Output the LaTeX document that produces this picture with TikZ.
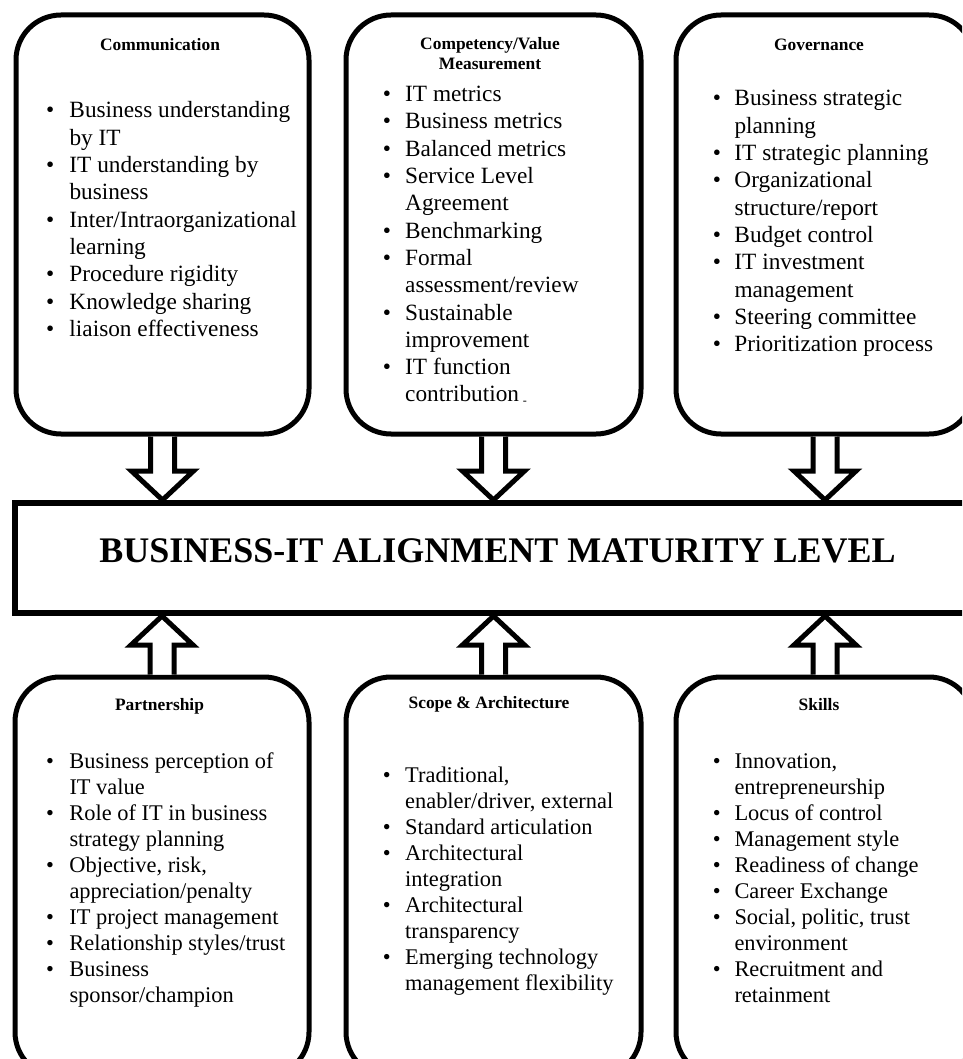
\documentclass[tikz,border=0pt]{standalone}
\usepackage{fontspec}
\setmainfont{Liberation Serif}
\usetikzlibrary{calc}
\tikzset{
  boxst/.style={draw, line width=5pt, rounded corners=45pt, inner sep=0pt, fill=white},
  mainst/.style={draw, line width=6pt, inner sep=0pt, fill=white, font=\fontsize{36}{40}\selectfont\bfseries},
  ttl/.style={anchor=base, inner sep=0pt, font=\fontsize{17.4}{19.5}\selectfont\bfseries},
  lstT/.style={anchor=base west, inner sep=0pt, font=\fontsize{23.3}{27.3}\selectfont},
  lstB/.style={anchor=base west, inner sep=0pt, font=\fontsize{22.4}{26.1}\selectfont},
  arr/.style={draw, line width=5pt, line join=miter, fill=white},
}
\newcommand{\myblist}[2]{\begin{tabular}[t]{@{}p{#1}@{}l@{}}#2\end{tabular}}
\begin{document}
\begin{tikzpicture}[x=1pt, y=-1pt]
\useasboundingbox (0,0) rectangle (962,1059);
\clip (0,0) rectangle (962,1059);

% top boxes
\node[boxst, minimum width=293pt, minimum height=419pt] (b1) at (162.5,224.5) {};
\node[boxst, minimum width=295pt, minimum height=419pt] (b2) at (493.5,224.5) {};
\node[boxst, minimum width=298pt, minimum height=419pt] (b3) at (825,224.5) {};
% bottom boxes
\node[boxst, minimum width=294pt, minimum height=400pt] (b4) at (162,877) {};
\node[boxst, minimum width=295pt, minimum height=400pt] (b5) at (493.5,877) {};
\node[boxst, minimum width=298pt, minimum height=400pt] (b6) at (825,877) {};

% main rectangle
\node[mainst, minimum width=965pt, minimum height=110pt, text depth=15pt] (main) at (497.5,558) {BUSINESS-IT ALIGNMENT MATURITY LEVEL};

% titles
\node[ttl] (t1) at (160,51) {Communication};
\node[ttl] (t2) at (490,50) {\begin{tabular}[t]{@{}c@{}}Competency/Value\\Measurement\end{tabular}};
\node[ttl] (t3) at (819,51) {Governance};
\node[ttl] (t4) at (159.5,710) {Partnership};
\node[ttl] (t5) at (489,708) {Scope \& Architecture};
\node[ttl] (t6) at (819,710) {Skills};

% lists
\node[lstT] (l1) at (46,118) {\myblist{23.3pt}{%
\textbullet & Business understanding\\
 & by IT\\
\textbullet & IT understanding by\\
 & business\\
\textbullet & Inter/Intraorganizational\\
 & learning\\
\textbullet & Procedure rigidity\\
\textbullet & Knowledge sharing\\
\textbullet & liaison effectiveness}};

\node[lstT] (l2) at (382.7,101.7) {\myblist{22.3pt}{%
\textbullet & IT metrics\\
\textbullet & Business metrics\\
\textbullet & Balanced metrics\\
\textbullet & Service Level\\
 & Agreement\\
\textbullet & Benchmarking\\
\textbullet & Formal\\
 & assessment/review\\
\textbullet & Sustainable\\
 & improvement\\
\textbullet & IT function\\
 & contribution\,{\fontsize{12}{12}\selectfont\raisebox{-3pt}{-}}}};

\node[lstT] (l3) at (712.7,106) {\myblist{21.6pt}{%
\textbullet & Business strategic\\
 & planning\\
\textbullet & IT strategic planning\\
\textbullet & Organizational\\
 & structure/report\\
\textbullet & Budget control\\
\textbullet & IT investment\\
 & management\\
\textbullet & Steering committee\\
\textbullet & Prioritization process}};

\node[lstB] (l4) at (46,768) {\myblist{23.3pt}{%
\textbullet & Business perception of\\
 & IT value\\
\textbullet & Role of IT in business\\
 & strategy planning\\
\textbullet & Objective, risk,\\
 & appreciation/penalty\\
\textbullet & IT project management\\
\textbullet & Relationship styles/trust\\
\textbullet & Business\\
 & sponsor/champion}};

\node[lstB] (l5) at (382.7,782) {\myblist{22.3pt}{%
\textbullet & Traditional,\\
 & enabler/driver, external\\
\textbullet & Standard articulation\\
\textbullet & Architectural\\
 & integration\\
\textbullet & Architectural\\
 & transparency\\
\textbullet & Emerging technology\\
 & management flexibility}};

\node[lstB] (l6) at (712.7,768) {\myblist{21.6pt}{%
\textbullet & Innovation,\\
 & entrepreneurship\\
\textbullet & Locus of control\\
\textbullet & Management style\\
\textbullet & Readiness of change\\
\textbullet & Career Exchange\\
\textbullet & Social, politic, trust\\
 & environment\\
\textbullet & Recruitment and\\
 & retainment}};

% downward arrows (top boxes -> main)
\foreach \b in {b1,b2,b3}{
  \draw[arr] ($(\b.south)+(-12,0)$) -- ($(\b.south |- main.north)+(-12,-29)$)
    -- ($(\b.south |- main.north)+(-31,-29)$) -- (\b.south |- main.north)
    -- ($(\b.south |- main.north)+(31,-29)$) -- ($(\b.south |- main.north)+(12,-29)$)
    -- ($(\b.south)+(12,0)$);
}
% upward arrows (bottom boxes -> main)
\foreach \b in {b4,b5,b6}{
  \draw[arr] ($(\b.north)+(-12,0)$) -- ($(\b.north |- main.south)+(-12,29)$)
    -- ($(\b.north |- main.south)+(-31,29)$) -- (\b.north |- main.south)
    -- ($(\b.north |- main.south)+(31,29)$) -- ($(\b.north |- main.south)+(12,29)$)
    -- ($(\b.north)+(12,0)$);
}
\end{tikzpicture}
\end{document}
